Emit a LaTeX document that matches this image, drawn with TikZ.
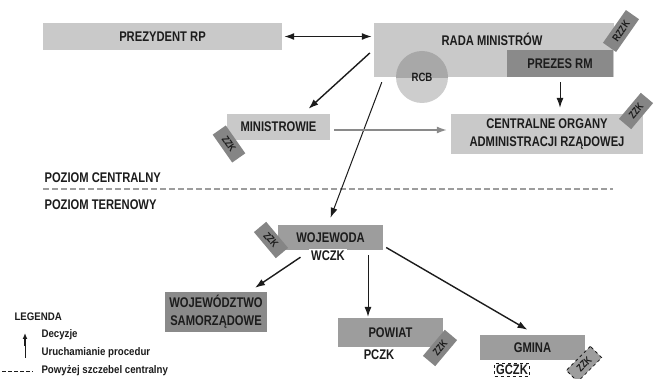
\documentclass[tikz,border=0pt]{standalone}
\usepackage{fontspec}
\setmainfont[FakeStretch=0.8]{Liberation Sans}
\newfontfamily\legendfont[FakeStretch=0.88]{Liberation Sans}
\usetikzlibrary{arrows.meta}

\definecolor{ink}{HTML}{1C1C1C}
\definecolor{boxlight}{HTML}{C9C9C9}
\definecolor{boxmid}{HTML}{9D9D9D}
\definecolor{boxdark}{HTML}{8A8A8A}
\definecolor{tagfill}{HTML}{858585}
\definecolor{rcbin}{HTML}{A8A8A8}
\definecolor{rcbout}{HTML}{CDCDCD}

\begin{document}
\begin{tikzpicture}[x=1pt,y=-1pt,
  font=\bfseries\fontsize{14}{18}\selectfont,
  box/.style={inner sep=0pt, align=center, text=ink},
  lightbox/.style={box, fill=boxlight},
  midbox/.style={box, fill=boxmid},
  darkbox/.style={box, fill=boxdark},
  tagbox/.style={fill=tagfill, inner sep=0pt, minimum width=34pt, minimum height=16pt,
                 text=ink, font=\bfseries\fontsize{10.5}{10.5}\selectfont},
  whitelabel/.style={fill=white, inner sep=2pt, text=ink},
  arr/.style={-{Latex[length=10pt,width=7pt]}, line width=1.4pt, draw=ink},
  thinarr/.style={-{Latex[length=10pt,width=7pt]}, line width=1pt, draw=ink},
  levelnote/.style={anchor=west, text=ink, font=\bfseries\fontsize{14}{14}\selectfont},
  legendtext/.style={anchor=west, text=ink, font=\legendfont\bfseries\fontsize{11}{11}\selectfont}
]
\fill[white] (0,0) rectangle (654,379);
\useasboundingbox (0,0) rectangle (654,379);

% central level
\node[lightbox, minimum width=239pt, minimum height=27pt] (pr) at (162.5,36.5) {PREZYDENT RP};
\node[box, fill=boxlight, minimum width=240pt, minimum height=54pt] (rm) at (494,50) {};
% RCB circle, darker where it lies inside the council box
\fill[rcbout] (422,77) circle (26pt);
\begin{scope}
  \clip (rm.north west) rectangle (rm.south east);
  \fill[rcbin] (422,77) circle (26pt);
\end{scope}
\node[box] (rcb) at (422,77) {\fontsize{12}{12}\selectfont RCB};
\node[darkbox, minimum width=106pt, minimum height=27pt] (pm) at (560,63.5) {PREZES RM};
\node[box] (rmt) at (492,39) {RADA MINISTRÓW};

\node[lightbox, minimum width=103pt, minimum height=26pt] (mi) at (278.5,127) {MINISTROWIE};
\node[lightbox, minimum width=192pt, minimum height=40pt] (co) at (547,134)
  {CENTRALNE ORGANY\\ADMINISTRACJI RZĄDOWEJ};

% level separator
\node[levelnote] (lc) at (41,178) {POZIOM CENTRALNY};
\node[levelnote] (lt) at (41,205) {POZIOM TERENOWY};
\draw[boxmid, line width=1.2pt, dash pattern=on 6pt off 3pt] (43,189) -- (613,189);

% field level
\node[midbox, minimum width=105pt, minimum height=25pt] (wo) at (330.5,237.5) {WOJEWODA};
\node[whitelabel] (wczk) at (328,256) {WCZK};
\node[darkbox, minimum width=102pt, minimum height=40pt] (ws) at (216,312)
  {WOJEWÓDZTWO\\SAMORZĄDOWE};
\node[midbox, minimum width=105pt, minimum height=29pt] (pw) at (390.5,332.5) {POWIAT};
\node[whitelabel] (pczk) at (379,355) {PCZK};
\node[midbox, minimum width=105pt, minimum height=25pt] (gm) at (532.5,347.5) {GMINA};
\node[whitelabel, draw=ink, dashed, line width=0.8pt, inner sep=1.5pt] (gczk) at (512,370) {GCZK};

% connectors
\draw[{Latex[length=10pt,width=7pt]}-{Latex[length=10pt,width=7pt]}, line width=1.4pt, draw=ink,
      shorten <=2pt, shorten >=2pt] (pr.east) -- (pr.east -| rm.west);
\draw[arr] ([shift={(-4,3)}]rm.west) -- ([shift={(30,-5)}]mi.north);
\draw[thinarr] ([shift={(8,5)}]rm.south west) -- ([shift={(0,-7)}]wo.north);
\draw[thinarr] ([yshift=-5pt]pm.south) -- ([yshift=6pt]pm.south |- co.north);
\draw[-{Latex[length=10pt,width=7pt]}, line width=1.4pt, draw=boxdark, shorten <=4pt, shorten >=4pt]
  ([yshift=-3pt]mi.east) -- ([yshift=-3pt]mi.east -| co.west);
\draw[arr] ([shift={(-30,7)}]wo.south) -- ([shift={(39,-4)}]ws.north);
\draw[thinarr] ([shift={(37.5,5)}]wo.south) -- ([shift={(37.5,-1)}]wo.south |- pw.north);
\draw[arr] ([shift={(3,10)}]wo.east) -- ([shift={(-5,-5)}]gm.north);

% tags
\node[tagbox, minimum width=40pt, rotate=55] (t1) at (621,31) {RZZK};
\node[tagbox, rotate=50] (t2) at (636,111) {ZZK};
\node[tagbox, rotate=-55] (t3) at (229,144) {ZZK};
\node[tagbox, rotate=-50] (t4) at (271,240) {ZZK};
\node[tagbox, rotate=50] (t5) at (440,348) {ZZK};
\node[tagbox, fill=boxmid, draw=ink, dashed, line width=0.8pt, rotate=45] (t6) at (584,364) {ZZK};

% legend
\node[legendtext] (lg) at (11,317) {LEGENDA};
\coordinate (la) at (25,333);
\coordinate (lb) at (25,346);
\coordinate (lc2) at (25,358);
\draw[-{Latex[length=6pt,width=5pt]}, line width=2pt, draw=ink] (lb) -- (la);
\draw[line width=0.8pt, draw=ink] (lb) -- (lc2);
\node[legendtext] (l1) at (38,335) {Decyzje};
\node[legendtext] (l2) at (38,353) {Uruchamianie procedur};
\coordinate (ld1) at (2,371);
\coordinate (ld2) at (33,371);
\draw[ink, line width=0.8pt, dash pattern=on 4pt off 2pt] (ld1) -- (ld2);
\node[legendtext] (l3) at (38,371) {Powyżej szczebel centralny};
\end{tikzpicture}
\end{document}
